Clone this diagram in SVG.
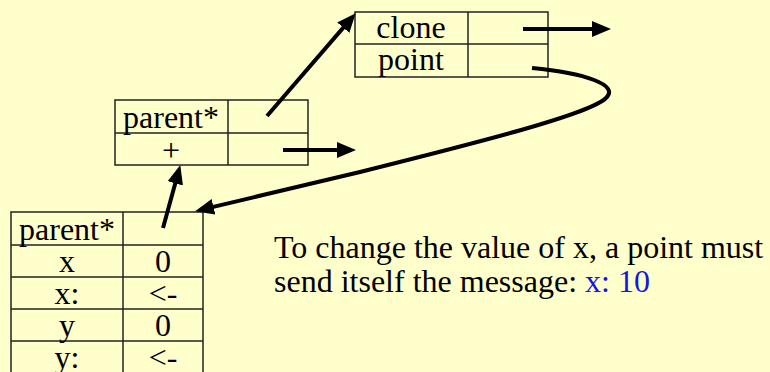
<svg xmlns="http://www.w3.org/2000/svg" width="770" height="372" viewBox="0 0 770 372">
<defs>
<marker id="ah" markerUnits="userSpaceOnUse" markerWidth="20" markerHeight="18" refX="10" refY="8" orient="auto">
<path d="M0,0 L19,8 L0,16 z" fill="#000"/>
</marker>
<style>
.cell{fill:none;stroke:#222;stroke-width:1.5}
.t{font-family:"Liberation Serif","Times New Roman",serif;font-size:32px;fill:#000;text-anchor:middle}
.note{font-family:"Liberation Serif","Times New Roman",serif;font-size:32px;fill:#000}
.arr{fill:none;stroke:#000;stroke-width:4;marker-end:url(#ah)}
</style>
</defs>
<rect width="770" height="372" fill="#FFFFCC"/>
<g id="point-obj">
<rect class="cell" x="355" y="12" width="193" height="65"/>
<line class="cell" x1="355" y1="44" x2="548" y2="44"/>
<line class="cell" x1="468" y1="12" x2="468" y2="77"/>
<text class="t" x="411" y="38">clone</text>
<text class="t" x="411" y="70">point</text>
</g>
<g id="traits-obj">
<rect class="cell" x="115" y="100" width="193" height="65"/>
<line class="cell" x1="115" y1="133" x2="308" y2="133"/>
<line class="cell" x1="228" y1="100" x2="228" y2="165"/>
<text class="t" x="171" y="128">parent*</text>
<text class="t" x="171" y="161">+</text>
</g>
<g id="point-instance">
<rect class="cell" x="11" y="212" width="192" height="162"/>
<line class="cell" x1="11" y1="245" x2="203" y2="245"/>
<line class="cell" x1="11" y1="277" x2="203" y2="277"/>
<line class="cell" x1="11" y1="309" x2="203" y2="309"/>
<line class="cell" x1="11" y1="341" x2="203" y2="341"/>
<line class="cell" x1="123" y1="212" x2="123" y2="374"/>
<text class="t" x="67" y="240">parent*</text>
<text class="t" x="67" y="272">x</text>
<text class="t" x="163" y="272">0</text>
<text class="t" x="67" y="304">x:</text>
<text class="t" x="163" y="304">&lt;-</text>
<text class="t" x="67" y="336">y</text>
<text class="t" x="163" y="336">0</text>
<text class="t" x="67" y="368">y:</text>
<text class="t" x="163" y="368">&lt;-</text>
</g>
<g id="note">
<text class="note" x="274" y="258">To change the value of x, a point must</text>
<text class="note" x="274" y="292">send itself the message: <tspan fill="#1515E0">x: 10</tspan></text>
</g>
<g id="connectors">
<line class="arr" x1="267" y1="116" x2="349.8" y2="20.1"/>
<line class="arr" x1="523" y1="29" x2="602" y2="29"/>
<line class="arr" x1="283" y1="150" x2="347" y2="150"/>
<line class="arr" x1="163" y1="228" x2="177.9" y2="173.7"/>
<path class="arr" d="M532,68 C585,73 620,85 606,98 C590,114 480,142 360,172 L203.8,209.1"/>
</g>
</svg>
